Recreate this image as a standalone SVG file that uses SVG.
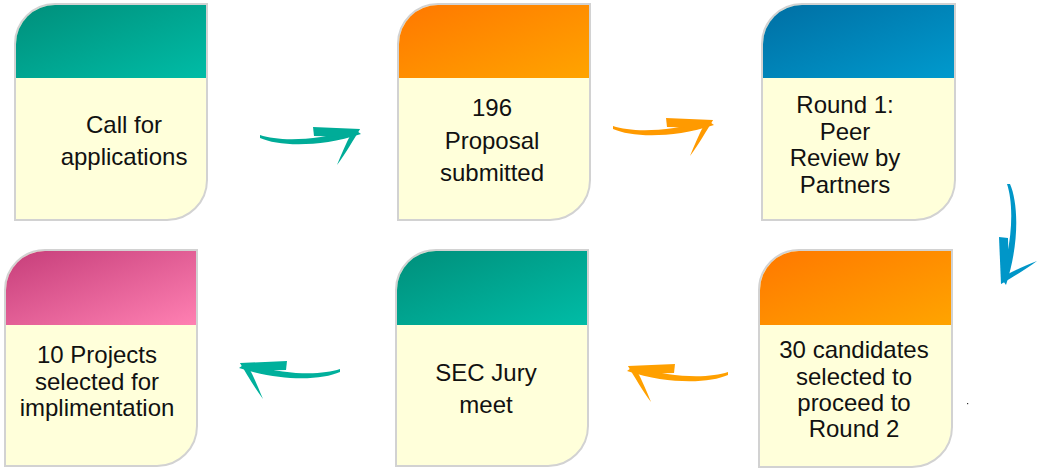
<svg xmlns="http://www.w3.org/2000/svg" width="1042" height="470" viewBox="0 0 1042 470">
<defs>
<linearGradient id="gTeal" x1="0" y1="0" x2="1" y2="1"><stop offset="0" stop-color="#008f7b"/><stop offset="1" stop-color="#00bca6"/></linearGradient>
<linearGradient id="gOrange" x1="0" y1="0" x2="1" y2="1"><stop offset="0" stop-color="#ff7800"/><stop offset="1" stop-color="#ffa400"/></linearGradient>
<linearGradient id="gBlue" x1="0" y1="0" x2="1" y2="1"><stop offset="0" stop-color="#006fa4"/><stop offset="1" stop-color="#009acd"/></linearGradient>
<linearGradient id="gPink" x1="0" y1="0" x2="1" y2="1"><stop offset="0" stop-color="#c63e7a"/><stop offset="1" stop-color="#ff80b2"/></linearGradient>
<g id="arr">
<path d="M-98,4 C-80,10 -45,11 -4,-2 L3,3 C-40,17 -80,15 -98,7 Z"/>
<path d="M-45,-4 L2,-2 L-4,6 L-44,5 Z"/>
<path d="M2,-2 C-4,8 -12,22 -21,34 C-16,22 -12,12 -7,3 Z"/>
</g>
<style>
.body{fill:#ffffda;stroke:#d2d2d2;stroke-width:2}
.lbl{font-family:"Liberation Sans",Arial,sans-serif;font-size:24px;fill:#111;text-anchor:middle}
</style>
</defs>

<g id="connectors">
<use href="#arr" transform="translate(358,131)" fill="#00ac98"/>
<use href="#arr" transform="translate(711,122)" fill="#ff9a00"/>
<use href="#arr" transform="matrix(0,1,1,0,1003,282)" fill="#0096c8"/>
<use href="#arr" transform="matrix(-1,0,0,1,630,368)" fill="#ffa000"/>
<use href="#arr" transform="matrix(-1,0,0,1,242,365)" fill="#00b09c"/>
</g>

<g id="node1">
<path class="body" d="M15,44 A40,40 0 0 1 55,4 H207 V180 A40,40 0 0 1 167,220 H15 Z"/>
<path fill="url(#gTeal)" d="M16,78 V44 A39,39 0 0 1 55,5 H206 V78 Z"/>
<text class="lbl" x="124" y="133">Call for</text>
<text class="lbl" x="124" y="165">applications</text>
</g>

<g id="node2">
<path class="body" d="M398,44 A40,40 0 0 1 438,4 H590 V180 A40,40 0 0 1 550,220 H398 Z"/>
<path fill="url(#gOrange)" d="M399,78 V44 A39,39 0 0 1 438,5 H589 V78 Z"/>
<text class="lbl" x="492" y="116">196</text>
<text class="lbl" x="492" y="149">Proposal</text>
<text class="lbl" x="492" y="181">submitted</text>
</g>

<g id="node3">
<path class="body" d="M762,44 A40,40 0 0 1 802,4 H955 V180 A40,40 0 0 1 915,220 H762 Z"/>
<path fill="url(#gBlue)" d="M763,78 V44 A39,39 0 0 1 802,5 H954 V78 Z"/>
<text class="lbl" x="845" y="113">Round 1:</text>
<text class="lbl" x="845" y="139.5">Peer</text>
<text class="lbl" x="845" y="166">Review by</text>
<text class="lbl" x="845" y="192.5">Partners</text>
</g>

<g id="node4">
<path class="body" d="M5,290 A40,40 0 0 1 45,250 H197 V426 A40,40 0 0 1 157,466 H5 Z"/>
<path fill="url(#gPink)" d="M6,325 V290 A39,39 0 0 1 45,251 H196 V325 Z"/>
<text class="lbl" x="97" y="363">10 Projects</text>
<text class="lbl" x="97" y="389.5">selected for</text>
<text class="lbl" x="97" y="416">implimentation</text>
</g>

<g id="node5">
<path class="body" d="M396,290 A40,40 0 0 1 436,250 H588 V426 A40,40 0 0 1 548,466 H396 Z"/>
<path fill="url(#gTeal)" d="M397,325 V290 A39,39 0 0 1 436,251 H587 V325 Z"/>
<text class="lbl" x="486" y="381">SEC Jury</text>
<text class="lbl" x="486" y="413">meet</text>
</g>

<g id="node6">
<path class="body" d="M759,290 A40,40 0 0 1 799,250 H952 V427 A40,40 0 0 1 912,467 H759 Z"/>
<path fill="url(#gOrange)" d="M760,325 V290 A39,39 0 0 1 799,251 H951 V325 Z"/>
<text class="lbl" x="854" y="358">30 candidates</text>
<text class="lbl" x="854" y="384.5">selected to</text>
<text class="lbl" x="854" y="410.5">proceed to</text>
<text class="lbl" x="854" y="437">Round 2</text>
</g>

<rect x="967" y="403" width="1.2" height="1.2" fill="#333"/>
</svg>
